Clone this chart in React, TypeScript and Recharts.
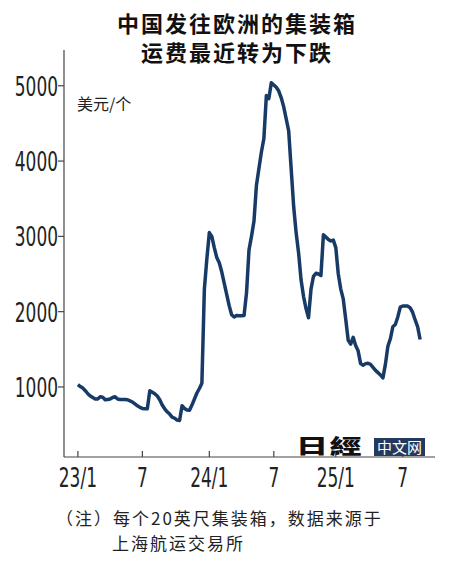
import { Line, LineChart, XAxis, YAxis } from 'recharts';

// Shanghai -> Europe container freight, USD per 20ft box, weekly from Jan 2023
const rates = [
  1030, 1005, 985, 950, 910, 880, 860, 840, 840, 870,
  865, 830, 835, 840, 860, 870, 840, 835, 835, 835,
  830, 815, 800, 775, 750, 730, 715, 710, 710, 950,
  930, 910, 880, 830, 760, 710, 670, 640, 600, 585,
  560, 555, 750, 715, 695, 690, 760, 840, 920, 980,
  1050, 2300, 2700, 3050, 3000, 2850, 2720, 2650, 2530, 2380,
  2230, 2080, 1960, 1930, 1950, 1945, 1945, 1950, 2250, 2820,
  3000, 3200, 3680, 3900, 4120, 4300, 4870, 4830, 5040, 5010,
  4980, 4930, 4840, 4720, 4560, 4400, 3900, 3400, 3050, 2780,
  2420, 2200, 2040, 1920, 2300, 2470, 2510, 2500, 2480, 3020,
  2990, 2960, 2940, 2950, 2850, 2500, 2300, 2170, 1900, 1620,
  1570, 1660, 1550, 1480, 1310, 1290, 1310, 1315, 1300, 1260,
  1220, 1190, 1160, 1120, 1300, 1540, 1640, 1800, 1830, 1930,
  2060, 2075, 2075, 2075, 2050, 1990, 1890, 1800, 1630,
];

const xTicks = [0, 26, 53, 79, 104, 131];
const xTickLabels = ['23/1', '7', '24/1', '7', '25/1', '7'];
const yTicks = [1000, 2000, 3000, 4000, 5000];

const data = rates.map((rate, week) => ({ week, rate }));

const cjk = "'Noto Sans CJK SC', 'Noto Sans', sans-serif";
const narrow = "'DejaVu Sans Condensed', 'DejaVu Sans', sans-serif";
const navy = '#183a66';

// condensed digits like the source graphic
const XTick = ({ x, y, payload }: any) => (
  <g transform={`translate(${x},${y}) scale(0.7,1)`}>
    <text x={0} y={30} textAnchor="middle" fill="#222" fontSize={27} fontFamily={narrow}>
      {xTickLabels[xTicks.indexOf(payload.value)] ?? ''}
    </text>
  </g>
);

const YTick = ({ x, y, payload }: any) => (
  <g transform={`translate(${x},${y}) scale(0.7,1)`}>
    <text x={0} y={10} textAnchor="end" fill="#222" fontSize={27} fontFamily={narrow}>
      {payload.value}
    </text>
  </g>
);

const App = () => {
  return (
    <div style={{ position: 'absolute', left: 0, top: 0, width: 450, height: 570, background: '#fff' }}>
      <div
        style={{
          position: 'absolute',
          left: 0,
          width: 474,
          top: 8,
          textAlign: 'center',
          fontFamily: cjk,
          fontWeight: 700,
          fontSize: 22,
          letterSpacing: 2,
          lineHeight: '29px',
          color: '#111',
        }}
      >
        <div>中国发往欧洲的集装箱</div>
        <div>运费最近转为下跌</div>
      </div>

      <LineChart width={450} height={570} data={data} margin={{ top: 50, right: 15, bottom: 83, left: 0 }}>
        <XAxis
          dataKey="week"
          type="number"
          domain={[-5.6, 144]}
          ticks={xTicks}
          tickSize={-6}
          tickMargin={6}
          height={30}
          stroke="#444"
          strokeWidth={1.2}
          tick={<XTick />}
        />
        <YAxis
          type="number"
          domain={[70, 5475]}
          ticks={yTicks}
          width={64}
          tickSize={6}
          tickMargin={0}
          stroke="#444"
          strokeWidth={1.2}
          tick={<YTick />}
        />
        <Line
          dataKey="rate"
          type="linear"
          stroke={navy}
          strokeWidth={3.5}
          strokeLinejoin="round"
          dot={false}
          isAnimationActive={false}
        />
      </LineChart>

      <div style={{ position: 'absolute', left: 77, top: 91, fontFamily: cjk, fontSize: 16, color: '#222' }}>
        美元/个
      </div>

      <div style={{ position: 'absolute', left: 296, top: 437, width: 130, height: 19 }}>
        <span
          style={{
            position: 'absolute',
            left: 0,
            top: -3,
            fontFamily: "'Noto Sans CJK TC', serif",
            fontWeight: 900,
            fontSize: 20,
            letterSpacing: 1,
            color: '#111',
            transform: 'scale(1.6,1)',
            transformOrigin: 'left center',
            lineHeight: '24px',
          }}
        >
          日經
        </span>
        <span
          style={{
            position: 'absolute',
            left: 78,
            top: 1,
            width: 51,
            height: 18,
            textAlign: 'center',
            background: '#23395d',
            color: '#fff',
            fontFamily: cjk,
            fontSize: 15,
            lineHeight: '18px',
          }}
        >
          中文网
        </span>
      </div>

      <div style={{ position: 'absolute', left: 56, top: 505, fontFamily: cjk, fontSize: 17, letterSpacing: 2, color: '#222', lineHeight: '25px' }}>
        <div>（注）每个20英尺集装箱，数据来源于</div>
        <div style={{ paddingLeft: 56 }}>上海航运交易所</div>
      </div>
    </div>
  );
};

export default App;
